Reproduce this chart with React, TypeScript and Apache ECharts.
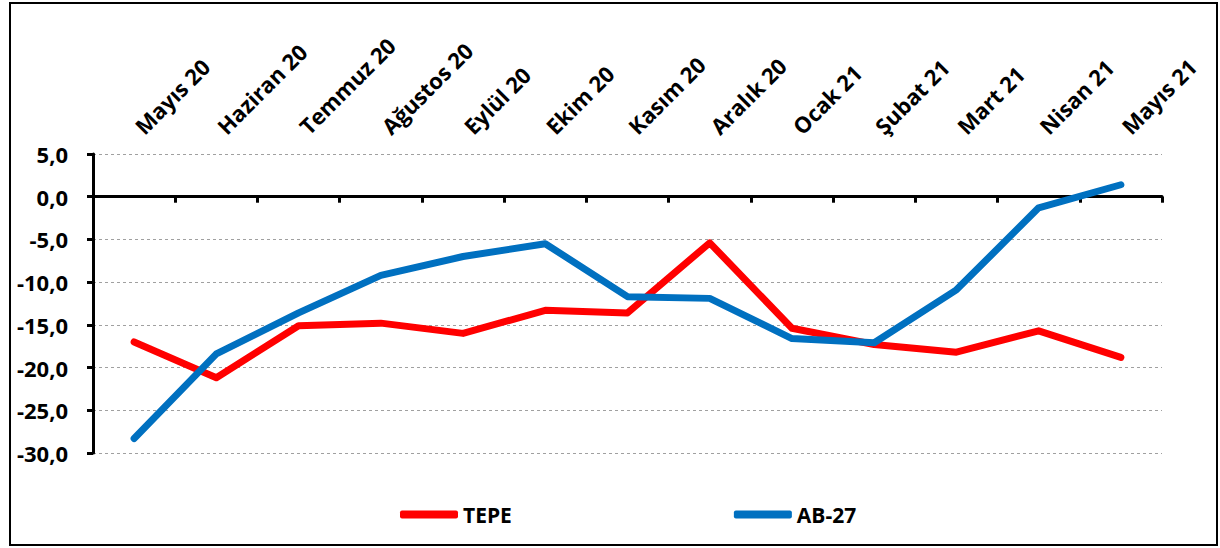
import React, { useEffect, useRef } from "react";
import * as echarts from "echarts";

const categories = [
  "Mayıs 20", "Haziran 20", "Temmuz 20", "Ağustos 20", "Eylül 20", "Ekim 20",
  "Kasım 20", "Aralık 20", "Ocak 21", "Şubat 21", "Mart 21", "Nisan 21", "Mayıs 21",
];
const tepe = [-17.0, -21.2, -15.1, -14.8, -16.0, -13.3, -13.6, -5.4, -15.4, -17.3, -18.2, -15.7, -18.8];
const ab27 = [-28.3, -18.4, -13.6, -9.2, -7.0, -5.5, -11.7, -11.9, -16.6, -17.1, -10.9, -1.3, 1.4];
const yMin = -30;
const yMax = 5;
const yStep = 5;

const FONT = "'Open Sans', 'Liberation Sans', sans-serif";

export default function App() {
  const ref = useRef<HTMLDivElement>(null);
  useEffect(() => {
    if (!ref.current) return;
    const chart = echarts.init(ref.current, null, { renderer: "svg" });
    chart.setOption({
      animation: false,
      backgroundColor: "#ffffff",
      graphic: [
        {
          type: "rect",
          shape: { x: 10, y: 3, width: 1207, height: 542 },
          style: { fill: "none", stroke: "#000", lineWidth: 2 },
          silent: true,
        },
      ],
      grid: { left: 93, right: 58, top: 154, bottom: 95, containLabel: false },
      legend: {
        left: 395,
        top: 499,
        icon: "roundRect",
        itemWidth: 58,
        itemHeight: 8,
        itemGap: 222,
        textStyle: { fontFamily: FONT, fontWeight: "bold", fontSize: 21, color: "#000", padding: [0, 0, 0, 0] },
        data: ["TEPE", "AB-27"],
      },
      xAxis: [
        {
          type: "category",
          data: categories,
          position: "top",
          boundaryGap: true,
          axisLine: { show: false, onZero: false },
          axisTick: { show: false },
          axisLabel: {
            rotate: -45,
            margin: 20,
            padding: [0, 0, 0, 6],
            fontFamily: FONT,
            fontWeight: "bold",
            fontSize: 22,
            color: "#000",
            interval: 0,
          },
        },
        {
          type: "category",
          data: categories,
          position: "bottom",
          boundaryGap: true,
          axisLine: { show: true, onZero: true, lineStyle: { color: "#000", width: 3 } },
          axisTick: { show: true, inside: false, length: 6, interval: 0, lineStyle: { color: "#000", width: 3 } },
          axisLabel: { show: false },
        },
      ],
      yAxis: {
        type: "value",
        min: yMin,
        max: yMax,
        interval: yStep,
        axisLine: { show: true, lineStyle: { color: "#000", width: 3 } },
        axisTick: { show: true, length: 6, lineStyle: { color: "#000", width: 3 } },
        axisLabel: {
          margin: 25,
          fontFamily: FONT,
          fontWeight: "bold",
          fontSize: 22,
          color: "#000",
          formatter: (v: number) => v.toFixed(1).replace(".", ","),
        },
        splitLine: { show: true, lineStyle: { color: "#a0a0a0", type: [3, 3], width: 1 } },
      },
      series: [
        {
          name: "TEPE",
          type: "line",
          data: tepe,
          showSymbol: false,
          symbol: "none",
          lineStyle: { color: "#ff0000", width: 7, cap: "round", join: "round" },
          itemStyle: { color: "#ff0000" },
          z: 3,
        },
        {
          name: "AB-27",
          type: "line",
          data: ab27,
          showSymbol: false,
          symbol: "none",
          lineStyle: { color: "#0070c0", width: 7, cap: "round", join: "round" },
          itemStyle: { color: "#0070c0" },
          z: 4,
        },
      ],
    });
    return () => chart.dispose();
  }, []);
  return (
    <div
      ref={ref}
      style={{ position: "absolute", left: 0, top: 0, width: 1220, height: 548 }}
    />
  );
}
